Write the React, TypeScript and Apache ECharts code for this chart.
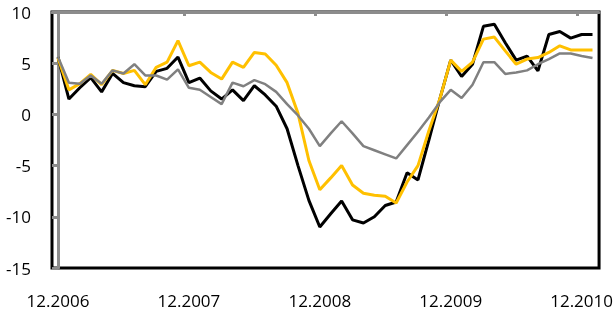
import React, { useEffect, useRef } from 'react';
import * as echarts from 'echarts';

// Tick labels on the time axis (month index from 12.2006)
const TICK_LABELS = ['12.2006', '12.2007', '12.2008', '12.2009', '12.2010'];
const TICK_INDEX = [0, 12, 24, 36, 48];
// Small marks on the zero line
const ZERO_TICKS = [11.6, 23.6, 35.6, 47.6];

// Monthly values, 12.2006 .. 01.2011
const BLACK_SERIES = [
  5.6, 1.5, 2.6, 3.6, 2.2, 4.0, 3.1, 2.8, 2.7, 4.2,
  4.5, 5.6, 3.1, 3.55, 2.3, 1.5, 2.4, 1.35, 2.8, 1.9,
  0.8, -1.4, -5.0, -8.4, -11.0, -9.7, -8.45, -10.3, -10.6, -10.0,
  -8.9, -8.55, -5.7, -6.4, -2.5, 1.5, 5.3, 3.7, 4.9, 8.6,
  8.8, 7.0, 5.3, 5.7, 4.25, 7.8, 8.1, 7.45, 7.8, 7.8,
];
const GOLD_SERIES = [
  5.5, 2.4, 3.0, 3.9, 2.9, 4.3, 4.0, 4.3, 2.9, 4.6,
  5.1, 7.2, 4.75, 5.1, 4.1, 3.45, 5.1, 4.6, 6.05, 5.9,
  4.8, 3.1, 0.1, -4.5, -7.35, -6.2, -5.0, -6.9, -7.7, -7.9,
  -8.0, -8.65, -6.6, -5.0, -1.6, 1.5, 5.3, 4.2, 5.1, 7.35,
  7.55, 6.2, 4.9, 5.4, 5.55, 6.05, 6.7, 6.3, 6.3, 6.3,
];
const GRAY_SERIES = [
  5.6, 3.1, 3.0, 3.8, 3.0, 4.3, 4.0, 4.9, 3.8, 3.8,
  3.4, 4.4, 2.6, 2.4, 1.7, 1.0, 3.1, 2.75, 3.35, 2.95,
  2.2, 1.0, -0.1, -1.4, -3.1, -1.85, -0.67, -1.85, -3.1, -3.5,
  -3.9, -4.3, -3.0, -1.7, -0.3, 1.2, 2.4, 1.6, 2.9, 5.1,
  5.1, 3.95, 4.1, 4.3, 4.9, 5.4, 5.95, 5.95, 5.7, 5.5,
];

const AXIS_GRAY = '#8c8c8c';
const FONT = 'Open Sans';

export default function App() {
  const ref = useRef<HTMLDivElement>(null);

  useEffect(() => {
    if (!ref.current) return;
    const chart = echarts.init(ref.current, undefined, { renderer: 'svg' });
    const toPairs = (arr: number[]) => arr.map((v, i) => [i, v]);
    const xMin = -0.55;
    const xMax = 49.6;
    chart.setOption({
      animation: false,
      grid: {
        left: 52,
        right: 15,
        top: 12,
        bottom: 47,
        show: true,
        borderColor: '#000',
        borderWidth: 3,
        backgroundColor: 'transparent',
      },
      xAxis: [
        {
          type: 'value',
          min: xMin,
          max: xMax,
          position: 'bottom',
          axisLine: { show: false },
          axisTick: { show: false },
          splitLine: { show: false },
          axisLabel: {
            customValues: TICK_INDEX,
            formatter: (v: number) => {
              const k = TICK_INDEX.indexOf(Math.round(v));
              return k >= 0 ? TICK_LABELS[k] : '';
            },
            margin: 24,
            fontSize: 17,
            fontFamily: FONT,
            color: '#000',
          },
        },
        {
          type: 'value',
          min: xMin,
          max: xMax,
          position: 'top',
          axisLine: { show: true, onZero: true, lineStyle: { color: AXIS_GRAY, width: 3 } },
          axisTick: {
            show: true,
            inside: true,
            length: 4,
            customValues: ZERO_TICKS,
            lineStyle: { color: AXIS_GRAY, width: 3 },
          },
          axisLabel: { show: false },
          splitLine: { show: false },
        },
      ],
      yAxis: {
        type: 'value',
        min: -15,
        max: 10,
        interval: 5,
        axisLine: { show: true, lineStyle: { color: AXIS_GRAY, width: 3 } },
        axisTick: { show: true, length: 6, lineStyle: { color: AXIS_GRAY, width: 3 } },
        splitLine: { show: false },
        axisLabel: { margin: 21, fontSize: 17, fontFamily: FONT, color: '#000' },
      },
      series: [
        {
          type: 'line',
          data: toPairs(BLACK_SERIES),
          symbol: 'none',
          lineStyle: { color: '#000000', width: 3 },
          z: 3,
        },
        {
          type: 'line',
          data: toPairs(GOLD_SERIES),
          symbol: 'none',
          lineStyle: { color: '#FFC000', width: 3 },
          z: 4,
        },
        {
          type: 'line',
          data: toPairs(GRAY_SERIES),
          symbol: 'none',
          lineStyle: { color: '#808080', width: 2.5 },
          z: 5,
        },
      ],
    });
    return () => chart.dispose();
  }, []);

  return (
    <div
      ref={ref}
      style={{ position: 'fixed', left: 0, top: 0, width: 616, height: 315 }}
    />
  );
}
